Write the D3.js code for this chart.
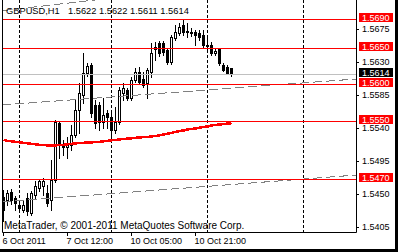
<!DOCTYPE html>
<html>
<head>
<meta charset="utf-8">
<script src="https://cdn.jsdelivr.net/npm/d3@7"></script>
<style>
  html, body { margin: 0; padding: 0; background: #fff; overflow: hidden; }
  text { font-family: "Liberation Sans", Arial, sans-serif; font-size: 9px; }
</style>
</head>
<body>
<svg id="chart" width="398" height="252"></svg>
<script>
// --- data (GBPUSD H1) ---
const symbol = 'GBPUSD,H1';
const opens  = [1.5446,1.5441,1.5453,1.5445,1.5435,1.5428,1.5445,1.5424,1.5449,1.5458,
                1.5461,1.5451,1.5442,1.5469,1.5547,1.5518,1.5514,1.5517,1.5530,1.5565,
                1.5585,1.5615,1.5626,1.5572,1.5572,1.5548,1.5561,1.5555,1.5537,1.5548,
                1.5588,1.5592,1.5581,1.5606,1.5617,1.5607,1.5602,1.5617,1.5651,1.5656,
                1.5656,1.5647,1.5630,1.5663,1.5670,1.5681,1.5673,1.5672,1.5672,1.5670,
                1.5667,1.5654,1.5654,1.5643,1.5648,1.5626,1.5624,1.5622];
const highs  = [1.5455,1.5455,1.5457,1.5447,1.5439,1.5441,1.5451,1.5454,1.5468,1.5470,
                1.5472,1.5462,1.5496,1.5551,1.5550,1.5524,1.5528,1.5544,1.5578,1.5602,
                1.5643,1.5629,1.5629,1.5578,1.5576,1.5581,1.5565,1.5561,1.5569,1.5596,
                1.5602,1.5595,1.5610,1.5622,1.5624,1.5617,1.5622,1.5656,1.5658,1.5659,
                1.5659,1.5650,1.5667,1.5681,1.5684,1.5688,1.5684,1.5677,1.5674,1.5674,
                1.5674,1.5663,1.5658,1.5650,1.5650,1.5629,1.5626,1.5622];
const lows   = [1.5413,1.5435,1.5436,1.5428,1.5427,1.5425,1.5421,1.5421,1.5445,1.5454,
                1.5449,1.5434,1.5428,1.5466,1.5499,1.5503,1.5499,1.5510,1.5528,1.5533,
                1.5574,1.5611,1.5555,1.5540,1.5537,1.5540,1.5540,1.5526,1.5534,1.5546,
                1.5578,1.5578,1.5578,1.5603,1.5600,1.5596,1.5581,1.5610,1.5633,1.5639,
                1.5640,1.5628,1.5628,1.5661,1.5667,1.5667,1.5665,1.5666,1.5654,1.5661,
                1.5651,1.5647,1.5640,1.5640,1.5626,1.5618,1.5614,1.5611];
const closes = [1.5428,1.5451,1.5442,1.5438,1.5431,1.5435,1.5427,1.5451,1.5461,1.5468,
                1.5468,1.5438,1.5469,1.5548,1.5517,1.5514,1.5520,1.5530,1.5565,1.5588,
                1.5615,1.5625,1.5561,1.5547,1.5548,1.5558,1.5555,1.5537,1.5548,1.5592,
                1.5595,1.5581,1.5606,1.5617,1.5603,1.5599,1.5620,1.5643,1.5648,1.5643,
                1.5644,1.5630,1.5665,1.5672,1.5678,1.5672,1.5672,1.5670,1.5667,1.5665,
                1.5654,1.5652,1.5643,1.5646,1.5629,1.5620,1.5615,1.5614];
const maValues = [1.55239,1.55226,1.55219,1.55212,1.55206,1.55199,1.55192,1.55185,1.55178,1.55172,
                  1.55168,1.55165,1.55165,1.55165,1.55168,1.55172,1.55178,1.55185,1.55192,1.55195,
                  1.55199,1.55203,1.55206,1.55208,1.55212,1.55219,1.55226,1.55233,1.55239,1.55246,
                  1.55253,1.55256,1.55260,1.55267,1.55273,1.55276,1.55280,1.55287,1.55294,1.55300,
                  1.55314,1.55323,1.55334,1.55348,1.55361,1.55368,1.55382,1.55389,1.55395,1.55405,
                  1.55416,1.55422,1.55436,1.55443,1.55450,1.55456,1.55463,1.55467];
const levelPrices = [1.5690, 1.5650, 1.5600, 1.5550, 1.5470];
const bidPrice = 1.5614;
const priceTicks = [1.5675, 1.5630, 1.5585, 1.5540, 1.5495, 1.5450, 1.5405];
const timeTickBars = [0, 16, 32, 48];
const timeTickLabels = ['6 Oct 2011', '7 Oct 12:00', '10 Oct 05:00', '10 Oct 21:00'];
const dayStartBars = [4, 27, 51, 75];
// trend lines: two anchors [bar, price]
const trendLines = [
  [[0, 1.57008], [19, 1.57128]],
  [[0, 1.55718], [88, 1.56071]],
  [[0, 1.54391], [88, 1.54757]]
];
const copyright = 'MetaTrader, \u00a9 2001-2011 MetaQuotes Software Corp.';

// --- layout ---
const plot = { left: 2, right: 356, top: 0, bottom: 232 };
const fmt = d3.format('.4f');

const x = d3.scaleLinear().domain([0, 57]).range([3, 231]);
const y = d3.scaleLinear().domain([1.5470, 1.5690]).range([179.3, 18.5]);
const py = p => Math.round(y(p));

const svg = d3.select('#chart');

svg.append('defs').append('clipPath').attr('id', 'plotclip')
  .append('rect')
  .attr('x', plot.left).attr('y', plot.top)
  .attr('width', plot.right - plot.left).attr('height', plot.bottom - plot.top);

const g = svg.append('g').attr('clip-path', 'url(#plotclip)');

// day separators
g.selectAll('line.sep').data(dayStartBars).join('line')
  .attr('class', 'sep')
  .attr('x1', d => x(d) + 0.5).attr('x2', d => x(d) + 0.5)
  .attr('y1', plot.top).attr('y2', plot.bottom)
  .attr('stroke', '#000').attr('stroke-dasharray', '3,2');

// candles
const bars = opens.map((o, i) => ({ i, o, h: highs[i], l: lows[i], c: closes[i] }));

g.selectAll('line.wick').data(bars).join('line')
  .attr('class', 'wick')
  .attr('x1', d => x(d.i) + 0.5).attr('x2', d => x(d.i) + 0.5)
  .attr('y1', d => py(d.h)).attr('y2', d => py(d.l) + 1)
  .attr('stroke', '#000');

g.selectAll('rect.bull').data(bars.filter(d => d.c > d.o)).join('rect')
  .attr('class', 'bull')
  .attr('x', d => x(d.i) - 0.5)
  .attr('y', d => py(d.c) + 0.5)
  .attr('width', 2)
  .attr('height', d => Math.max(1, py(d.o) - py(d.c)))
  .attr('fill', '#fff').attr('stroke', '#000');

g.selectAll('rect.bear').data(bars.filter(d => d.c <= d.o)).join('rect')
  .attr('class', 'bear')
  .attr('x', d => x(d.i) - 1)
  .attr('y', d => py(d.o))
  .attr('width', 3)
  .attr('height', d => Math.max(1, py(d.c) - py(d.o) + 1))
  .attr('fill', '#000');

// moving average
const maLine = d3.line()
  .x((d, i) => x(i) + 0.5)
  .y(d => y(d));

g.append('path').datum(maValues)
  .attr('d', maLine)
  .attr('fill', 'none').attr('stroke', '#ff0000')
  .attr('stroke-width', 2.5).attr('shape-rendering', 'crispEdges');

// channel lines, extended across the plot
g.selectAll('line.trend').data(trendLines).join('line')
  .attr('class', 'trend')
  .each(function (d) {
    const [[b0, p0], [b1, p1]] = d;
    const slope = (p1 - p0) / (b1 - b0);
    const bl = x.invert(plot.left), br = x.invert(plot.right);
    d3.select(this)
      .attr('x1', plot.left).attr('y1', y(p0 + slope * (bl - b0)))
      .attr('x2', plot.right).attr('y2', y(p0 + slope * (br - b0)));
  })
  .attr('stroke', '#808080').attr('stroke-dasharray', '9,4')
  .attr('shape-rendering', 'crispEdges');

// horizontal levels
g.selectAll('line.level').data(levelPrices).join('line')
  .attr('class', 'level')
  .attr('x1', plot.left).attr('x2', plot.right)
  .attr('y1', d => py(d) + 0.5).attr('y2', d => py(d) + 0.5)
  .attr('stroke', '#ff0000');

// bid line
g.append('line')
  .attr('x1', plot.left).attr('x2', plot.right)
  .attr('y1', py(bidPrice) + 0.5).attr('y2', py(bidPrice) + 0.5)
  .attr('stroke', '#c0c0c0');

// title: symbol, then O H L C of the last bar
const title = svg.append('text').attr('y', 14).attr('fill', '#000').style('font-size', '9.3px');
title.append('tspan').attr('x', 6).text(symbol);
title.append('tspan').attr('x', 68)
  .text([opens[57], highs[57], lows[57], closes[57]].map(fmt).join(' '));

// copyright
svg.append('text').attr('x', 4).attr('y', 229).attr('fill', '#000')
  .style('font-size', '10px').text(copyright);

// frame of the plot
svg.append('path')
  .attr('d', `M${plot.left + 0.5},${plot.top}V${plot.bottom + 0.5}H${plot.right + 0.5}V${plot.top}`)
  .attr('fill', 'none').attr('stroke', '#000');

// price axis
const yAxisScale = y.copy().interpolate(d3.interpolateRound);
const yAxis = svg.append('g')
  .attr('transform', `translate(${plot.right},0)`)
  .call(d3.axisRight(yAxisScale).tickValues(priceTicks).tickSize(3).tickPadding(3).tickFormat(fmt));
yAxis.select('.domain').remove();
yAxis.selectAll('text')
  .attr('dy', null).attr('y', 2.5)
  .style('font-family', '"Liberation Sans", Arial, sans-serif').style('font-size', '9px')
  .attr('fill', '#000');

// level labels
const boxes = levelPrices.map(p => ({ p, fill: '#ff0000' })).concat([{ p: bidPrice, fill: '#000' }]);
const lab = svg.selectAll('g.lab').data(boxes).join('g').attr('class', 'lab');
lab.append('rect')
  .attr('x', 359).attr('y', d => py(d.p) - 6)
  .attr('width', 34).attr('height', 9)
  .attr('fill', d => d.fill);
lab.append('text')
  .attr('x', 362).attr('y', d => py(d.p) + 1.5)
  .attr('fill', '#fff')
  .text(d => fmt(d.p));

// time axis
const xAxis = svg.append('g')
  .attr('transform', `translate(0,${plot.bottom})`)
  .call(d3.axisBottom(x).tickValues(timeTickBars).tickSize(4).tickPadding(2)
    .tickFormat((d, i) => timeTickLabels[i]));
xAxis.select('.domain').remove();
xAxis.selectAll('text')
  .attr('text-anchor', 'start').attr('x', -1).attr('dy', null).attr('y', 12)
  .style('font-family', '"Liberation Sans", Arial, sans-serif').style('font-size', '9px')
  .attr('fill', '#000');

// window edge
svg.append('rect').attr('x', 395).attr('y', 0).attr('width', 3).attr('height', 252).attr('fill', '#000');
svg.append('rect').attr('x', 0).attr('y', 249).attr('width', 398).attr('height', 3).attr('fill', '#000');
</script>
</body>
</html>
